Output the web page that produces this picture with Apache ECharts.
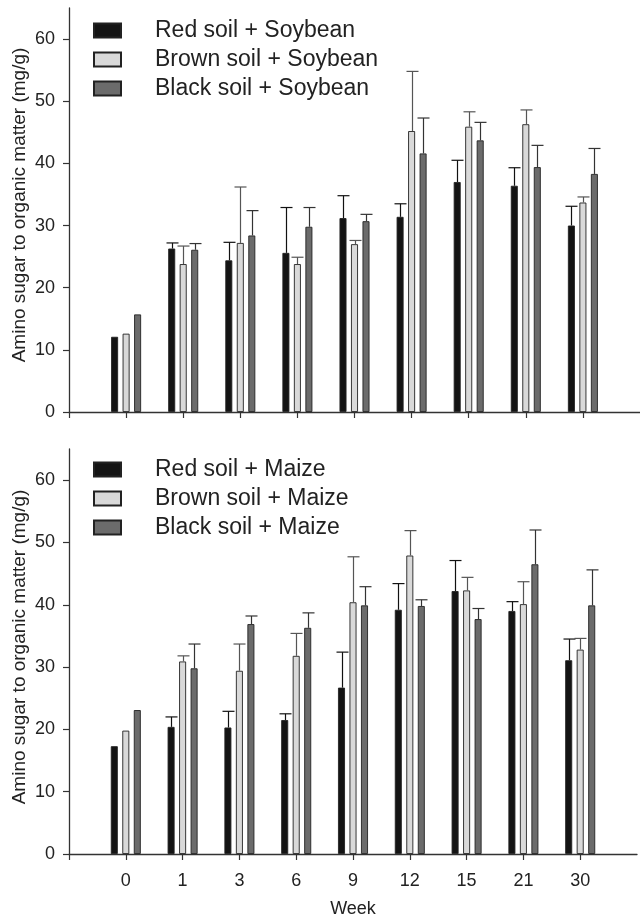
<!DOCTYPE html>
<html>
<head>
<meta charset="utf-8">
<script src="https://cdn.jsdelivr.net/npm/echarts@6/dist/echarts.min.js"></script>
<style>html,body{margin:0;padding:0;background:#fff}#c{width:640px;height:920px}</style>
</head>
<body>
<div id="c"></div>
<script>
const weeks = ['0','1','3','6','9','12','15','21','30'];
const yTicks = [0, 10, 20, 30, 40, 50, 60];
const yTitle = 'Amino sugar to organic matter (mg/g)';
const xTitle = 'Week';
const soyNames = ['Red soil + Soybean', 'Brown soil + Soybean', 'Black soil + Soybean'];
const maizeNames = ['Red soil + Maize', 'Brown soil + Maize', 'Black soil + Maize'];

const soyRed = [12.1, 26.3, 24.4, 25.6, 31.2, 31.4, 37.0, 36.4, 30.0];
const soyRedTop = [null, 27.2, 27.3, 32.9, 34.8, 33.5, 40.5, 39.3, 33.1];
const soyBrown = [12.6, 23.8, 27.2, 23.8, 27.0, 45.2, 45.9, 46.3, 33.7];
const soyBrownTop = [null, 26.7, 36.2, 24.9, 27.6, 54.8, 48.3, 48.6, 34.6];
const soyBlack = [15.7, 26.1, 28.4, 29.8, 30.7, 41.6, 43.7, 39.4, 38.3];
const soyBlackTop = [null, 27.1, 32.4, 32.9, 31.8, 47.3, 46.6, 42.9, 42.4];

const maizeRed = [17.3, 20.4, 20.3, 21.5, 26.7, 39.2, 42.2, 39.0, 31.1];
const maizeRedTop = [null, 22.0, 22.9, 22.5, 32.4, 43.4, 47.1, 40.5, 34.5];
const maizeBrown = [19.8, 30.9, 29.4, 31.8, 40.4, 47.9, 42.3, 40.1, 32.8];
const maizeBrownTop = [null, 31.8, 33.7, 35.4, 47.7, 51.9, 44.4, 43.7, 34.6];
const maizeBlack = [23.1, 29.8, 36.9, 36.3, 39.9, 39.8, 37.7, 46.5, 39.9];
const maizeBlackTop = [null, 33.7, 38.2, 38.7, 42.9, 40.8, 39.4, 52.0, 45.6];

const FONT = "'Liberation Sans', Arial, Helvetica, sans-serif";
const fills = ['#141414', '#d9d9d9', '#6b6b6b'];
const errColors = ['#111111', '#555555', '#333333'];
const BW = 7, GAP = 4.5;
const cats = [''].concat(weeks, ['']);

function pad(arr) { return [null].concat(arr, [null]); }

function barSeries(name, vals, i, g) {
  return {
    type: 'bar', name: name, xAxisIndex: g, yAxisIndex: g,
    data: pad(vals), barWidth: BW, barGap: (GAP / BW * 100) + '%',
    itemStyle: { color: fills[i], borderColor: '#222', borderWidth: 0.9 },
    emphasis: { disabled: true }, silent: true
  };
}

function errSeries(vals, tops, i, g) {
  const data = [];
  vals.forEach((v, k) => { if (tops[k] != null) data.push([k + 1, v, tops[k]]); });
  const off = (BW + GAP) * (i - 1);
  return {
    type: 'custom', xAxisIndex: g, yAxisIndex: g, silent: true, clip: false, z: 5,
    data: data,
    renderItem: function (params, api) {
      const p = api.coord([api.value(0), api.value(1)]);
      const t = api.coord([api.value(0), api.value(2)]);
      const x = Math.round(p[0] + off) + 0.5;
      const st = { stroke: errColors[i], lineWidth: 1.2 };
      return {
        type: 'group', children: [
          { type: 'line', shape: { x1: x, y1: p[1], x2: x, y2: t[1] }, style: st },
          { type: 'line', shape: { x1: x - 6, y1: t[1], x2: x + 6, y2: t[1] }, style: st }
        ]
      };
    }
  };
}

function xAxisDef(g, showLabels) {
  return {
    type: 'category', gridIndex: g, data: cats, boundaryGap: false,
    axisLine: { lineStyle: { color: '#333', width: 1.3 } },
    axisTick: { show: true, length: 6, interval: function (idx) { return idx < cats.length - 1; },
      lineStyle: { color: '#333', width: 1.2 } },
    axisLabel: { show: showLabels, margin: 18, fontSize: 18, color: '#222', fontFamily: FONT, interval: 0 },
    splitLine: { show: false },
    name: showLabels ? xTitle : '', nameLocation: 'middle', nameGap: 46,
    nameTextStyle: { fontSize: 18, color: '#222', fontFamily: FONT }
  };
}

function yAxisDef(g) {
  return {
    type: 'value', gridIndex: g, min: 0, max: 65, interval: 10,
    axisLine: { show: true, lineStyle: { color: '#333', width: 1.3 } },
    axisTick: { show: true, length: 6, customValues: yTicks, lineStyle: { color: '#333', width: 1.2 } },
    axisLabel: { margin: 14, fontSize: 18, color: '#222', fontFamily: FONT, customValues: yTicks },
    splitLine: { show: false }
  };
}

function legendDef(names, top) {
  return {
    orient: 'vertical', left: 88, top: top, data: names,
    itemWidth: 27, itemHeight: 14, itemGap: 6, icon: 'rect',
    selectedMode: false,
    textStyle: { fontSize: 23, lineHeight: 23, color: '#222', fontFamily: FONT, padding: [0, 0, 0, 29] }
  };
}

function yTitleText(cy) {
  return {
    type: 'text', x: 20, y: cy, rotation: Math.PI / 2, silent: true,
    style: { text: yTitle, font: '19px ' + FONT, fill: '#222', align: 'center', verticalAlign: 'middle' }
  };
}

const chart = echarts.init(document.getElementById('c'), null, { renderer: 'canvas' });
chart.setOption({
  animation: false,
  backgroundColor: '#fff',
  grid: [
    { left: 69, right: 0, top: 8, height: 404 },
    { left: 69, right: 0, top: 449, height: 405 }
  ],
  xAxis: [xAxisDef(0, false), xAxisDef(1, true)],
  yAxis: [yAxisDef(0), yAxisDef(1)],
  legend: [legendDef(soyNames, 14), legendDef(maizeNames, 453)],
  graphic: [yTitleText(205), yTitleText(647)],
  series: [
    barSeries(soyNames[0], soyRed, 0, 0),
    barSeries(soyNames[1], soyBrown, 1, 0),
    barSeries(soyNames[2], soyBlack, 2, 0),
    errSeries(soyRed, soyRedTop, 0, 0),
    errSeries(soyBrown, soyBrownTop, 1, 0),
    errSeries(soyBlack, soyBlackTop, 2, 0),
    barSeries(maizeNames[0], maizeRed, 0, 1),
    barSeries(maizeNames[1], maizeBrown, 1, 1),
    barSeries(maizeNames[2], maizeBlack, 2, 1),
    errSeries(maizeRed, maizeRedTop, 0, 1),
    errSeries(maizeBrown, maizeBrownTop, 1, 1),
    errSeries(maizeBlack, maizeBlackTop, 2, 1)
  ]
});
</script>
</body>
</html>
